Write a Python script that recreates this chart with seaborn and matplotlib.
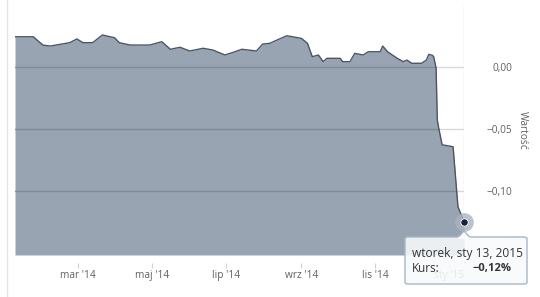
import matplotlib
matplotlib.use("Agg")
import matplotlib.pyplot as plt
import matplotlib.dates as mdates
from matplotlib.patches import FancyBboxPatch, Polygon
import seaborn as sns
import pandas as pd

dates = ["2014-01-08", "2014-01-23", "2014-01-31", "2014-02-06", "2014-02-22", "2014-02-28",
         "2014-03-05", "2014-03-13", "2014-03-21", "2014-03-31", "2014-04-04", "2014-04-13",
         "2014-04-29", "2014-05-09", "2014-05-16", "2014-05-24", "2014-06-01", "2014-06-12",
         "2014-06-20", "2014-06-30", "2014-07-07", "2014-07-14", "2014-07-26", "2014-07-31",
         "2014-08-06", "2014-08-12", "2014-08-20", "2014-09-01", "2014-09-06", "2014-09-10",
         "2014-09-15", "2014-09-19", "2014-09-22", "2014-10-03", "2014-10-05", "2014-10-11",
         "2014-10-15", "2014-10-22", "2014-10-26", "2014-11-05", "2014-11-07", "2014-11-11",
         "2014-11-19", "2014-11-24", "2014-11-27", "2014-12-01", "2014-12-09", "2014-12-13",
         "2014-12-15", "2014-12-18", "2014-12-19", "2014-12-21", "2014-12-22", "2014-12-23",
         "2014-12-26", "2014-12-27", "2015-01-04", "2015-01-08", "2015-01-13"]
values = [0.0244, 0.0244, 0.0177, 0.0169, 0.0196, 0.0226,
          0.0196, 0.0196, 0.0258, 0.0236, 0.0196, 0.0177,
          0.0177, 0.0204, 0.0143, 0.0159, 0.0129, 0.0151,
          0.0137, 0.0097, 0.0119, 0.0143, 0.0129, 0.0185,
          0.0191, 0.0218, 0.0252, 0.0231, 0.0191, 0.0083,
          0.0097, 0.0043, 0.0070, 0.0070, 0.0043, 0.0043,
          0.0110, 0.0097, 0.0123, 0.0123, 0.0169, 0.0123,
          0.0070, 0.0043, 0.0056, 0.0030, 0.0030, 0.0056,
          0.0102, 0.0094, 0.0083, -0.0008, -0.0427, -0.0484,
          -0.0629, -0.0629, -0.0643, -0.1126, -0.1248]

tick_dates = ["2014-03-01", "2014-05-01", "2014-07-01", "2014-09-01", "2014-11-01", "2015-01-01"]
tick_labels = ["mar '14", "maj '14", "lip '14", "wrz '14", "lis '14", "sty '15"]
y_ticks = [0.0, -0.05, -0.10]
y_tick_labels = ["0,00", "\u22120,05", "\u22120,10"]
y_title = "Wartość"
tip_date = "wtorek, sty 13, 2015"
tip_label = "Kurs:"
tip_value = "\u22120,12%"

sns.set_style("white")
plt.rcParams['font.family'] = ['Open Sans', 'DejaVu Sans']

df = pd.DataFrame({"date": pd.to_datetime(dates), "value": values})

W, H = 540, 297
fig = plt.figure(figsize=(W / 100, H / 100), dpi=100)
ax = fig.add_axes([15 / W, (H - 255) / H, 449 / W, 250 / H])

ax.set_xlim(df["date"].iloc[0], df["date"].iloc[-1])
ax.set_ylim(-0.1516, 0.05)

# light gridlines (visible outside area)
for yv in y_ticks:
    ax.axhline(yv, color="#d8d8d8", lw=1, zorder=0.5)

poly = ax.fill_between(df["date"], df["value"], -0.1516, color="#98a4b1", lw=0, zorder=1)
# darker gridlines seen through the area
for yv in y_ticks:
    ln = ax.axhline(yv, color="#7f8a97", lw=1, zorder=1.5)
    ln.set_clip_path(poly.get_paths()[0], transform=ax.transData)

sns.lineplot(data=df, x="date", y="value", ax=ax, color="#4b5563", lw=1, zorder=2)

# highlighted last point
ax.scatter([df["date"].iloc[-1]], [values[-1]], s=180, color="#a9b3c1", alpha=0.8,
           zorder=5, clip_on=False, lw=0)
ax.scatter([df["date"].iloc[-1]], [values[-1]], s=28, color="#18213a", zorder=6,
           clip_on=False, edgecolor="white", lw=0.6)

for s in ax.spines.values():
    s.set_visible(False)
ax.spines["bottom"].set_position(("outward", 5.5))
ax.axvline(df["date"].iloc[-1], color="#e2e2e2", lw=1, zorder=0.4, ymin=0, ymax=1)

ax.xaxis.set_major_locator(plt.FixedLocator(mdates.date2num(pd.to_datetime(tick_dates))))
ax.set_xticklabels(tick_labels)
ax.tick_params(axis="x", length=3.5, width=0.8, color="#c8d2e0", pad=1.8,
               labelsize=7.3, labelcolor="#606060", bottom=True, direction="out")

ax.yaxis.tick_right()
ax.set_yticks(y_ticks)
ax.set_yticklabels(y_tick_labels)
ax.tick_params(axis="y", length=0, pad=34.5, labelsize=7.3, labelcolor="#606060")
for lbl in ax.get_yticklabels():
    lbl.set_horizontalalignment("right")
ax.set_xlabel("")
ax.set_ylabel("")

fig.text(522 / W, 1 - 130 / H, y_title, rotation=-90, ha="center", va="center",
         fontsize=7.3, color="#606060")

# left page border
fig.add_artist(plt.Line2D([6.5 / W, 6.5 / W], [0, 1], color="#e6e6e6", lw=1,
                          transform=fig.transFigure))

# tooltip
tip_face = (0.975, 0.98, 0.985, 0.88)
bx0, by0, bx1, by1 = 405, 237, 527, 284
box = FancyBboxPatch((bx0 / W, 1 - by1 / H), (bx1 - bx0) / W, (by1 - by0) / H,
                     boxstyle="round,pad=0,rounding_size=0.006",
                     transform=fig.transFigure, facecolor=tip_face, edgecolor="#a5b8c8",
                     lw=1, zorder=10)
fig.add_artist(box)
notch = Polygon([[458 / W, 1 - 237.5 / H], [464 / W, 1 - 231 / H], [470 / W, 1 - 237.5 / H]],
                closed=False, transform=fig.transFigure, facecolor="#f9fbfc",
                edgecolor="#a5b8c8", lw=1, zorder=11)
fig.add_artist(notch)
fig.add_artist(plt.Line2D([459 / W, 469 / W], [1 - 237.9 / H, 1 - 237.9 / H], color="#f9fbfc",
                          lw=1.5, transform=fig.transFigure, zorder=12))
fig.text(412 / W, 1 - 253 / H, tip_date, ha="left", va="center", fontsize=8.6,
         color="#333333", zorder=13)
fig.text(412 / W, 1 - 268 / H, tip_label, ha="left", va="center", fontsize=8.4,
         color="#333333", zorder=13)
fig.text(512 / W, 1 - 268 / H, tip_value, ha="right", va="center", fontsize=8.0,
         color="#333333", fontweight="bold", zorder=13)

fig.savefig("out.png", dpi=100)
